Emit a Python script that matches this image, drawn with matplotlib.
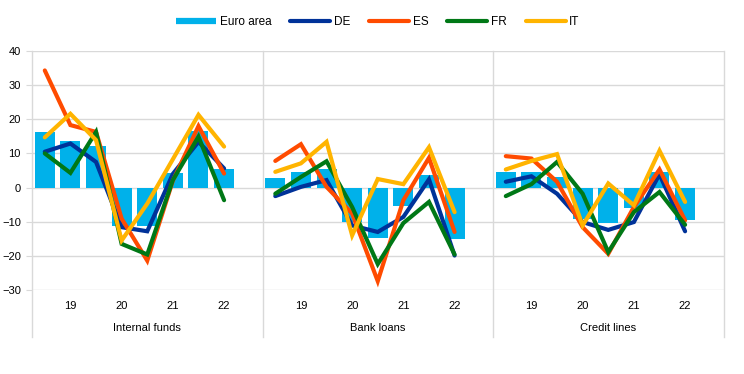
import matplotlib.pyplot as plt
from matplotlib.lines import Line2D
import numpy as np

plt.rcParams["font.family"] = ["Liberation Sans", "DejaVu Sans"]

panels = ["Internal funds", "Bank loans", "Credit lines"]
year_labels = ["19", "20", "21", "22"]

euro_area = [
    [16.2, 13.6, 12.2, -11.3, -11.3, 4.3, 16.6, 5.3],
    [2.8, 4.6, 5.3, -10.1, -14.7, -5.5, 3.8, -15.2],
    [4.6, 4.6, 3.1, -9.1, -10.4, -5.9, 4.6, -9.4],
]
de = [
    [10.5, 12.9, 7.5, -11.6, -12.8, 4.0, 13.4, 5.6],
    [-2.5, 0.2, 2.2, -11.1, -13.0, -8.6, 2.4, -19.9],
    [1.7, 3.3, -1.8, -10.1, -12.4, -10.1, 3.9, -12.8],
]
es = [
    [34.3, 18.3, 16.3, -9.1, -21.4, 2.0, 18.0, 4.1],
    [7.8, 12.7, 0.2, -7.6, -27.4, -3.7, 8.7, -13.0],
    [9.2, 8.5, 1.7, -11.6, -19.4, -5.7, 5.3, -9.6],
]
fr = [
    [10.0, 4.3, 16.3, -16.5, -19.6, 2.2, 14.9, -3.7],
    [-1.8, 3.1, 7.7, -5.7, -22.4, -10.4, -4.2, -19.6],
    [-2.5, 1.0, 7.5, -1.8, -18.9, -7.2, -1.3, -10.9],
]
it = [
    [14.7, 21.6, 13.9, -15.5, -4.7, 8.3, 21.3, 12.0],
    [4.6, 7.1, 13.4, -14.0, 2.5, 1.0, 11.8, -7.2],
    [5.3, 7.8, 9.8, -11.1, 1.2, -5.2, 10.8, -4.2],
]

series = [("DE", de, "#003299"), ("ES", es, "#FF4B00"),
          ("FR", fr, "#007816"), ("IT", it, "#FFB400")]
bar_color = "#00B1EA"
slots = 9  # eight observations plus one empty slot per panel

fig = plt.figure(figsize=(7.44, 3.74), dpi=100)
ax = fig.add_axes([32 / 744, 1 - 290 / 374, (723.5 - 32) / 744, (290 - 51) / 374])

for p in range(len(panels)):
    x = p * slots + np.arange(len(euro_area[p])) + 0.5
    ax.bar(x, euro_area[p], width=0.78, color=bar_color, zorder=2)
    for name, vals, col in series:
        ax.plot(x, vals[p], color=col, lw=3, solid_capstyle="round",
                solid_joinstyle="miter", zorder=3)

ax.set_xlim(0, slots * len(panels))
ax.set_ylim(-30, 40)
ax.set_yticks(np.arange(-30, 41, 10))
ax.grid(axis="y", color="#d9d9d9", lw=1, zorder=0)
for s in ax.spines.values():
    s.set_visible(False)
ax.tick_params(axis="y", length=4, color="#d9d9d9", labelsize=8, pad=4)
ax.tick_params(axis="x", length=0, labelsize=8, pad=8)

xt = [p * slots + i for p in range(len(panels)) for i in (1.5, 3.5, 5.5, 7.5)]
ax.set_xticks(xt)
ax.set_xticklabels(year_labels * len(panels))

trans = ax.get_xaxis_transform()
for p in range(len(panels) + 1):
    ax.plot([p * slots] * 2, [-0.195, 1], transform=trans, clip_on=False,
            color="#d9d9d9", lw=1, zorder=1)
for p, name in enumerate(panels):
    ax.text(p * slots + slots / 2, -0.16, name, transform=trans,
            ha="center", va="center", fontsize=8)

handles = [Line2D([], [], color=bar_color, lw=4.5, solid_capstyle="butt")]
handles += [Line2D([], [], color=col, lw=3, solid_capstyle="round")
            for _, _, col in series]
labels = ["Euro area"] + [name for name, _, _ in series]
ax.legend(handles, labels, loc="lower center", bbox_to_anchor=(0.5, 1.05), ncol=5,
          frameon=False, fontsize=8.5, handlelength=3.4, columnspacing=1.6,
          handletextpad=0.3)

fig.savefig("out.png", dpi=100)
